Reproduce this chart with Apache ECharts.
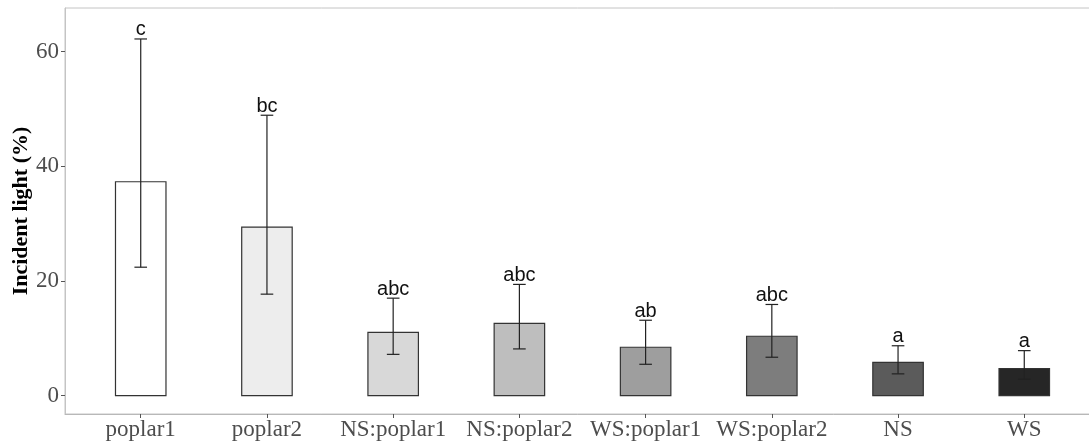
<!DOCTYPE html>
<html>
<head>
<meta charset="utf-8">
<script src="https://cdn.jsdelivr.net/npm/echarts@6/dist/echarts.min.js"></script>
<style>
  html, body { margin: 0; padding: 0; background: #fff; }
  #chart { width: 1089px; height: 445px; }
</style>
</head>
<body>
<div id="chart"></div>
<script>
// data
const categories = ['poplar1', 'poplar2', 'NS:poplar1', 'NS:poplar2', 'WS:poplar1', 'WS:poplar2', 'NS', 'WS']
const means = [37.3, 29.4, 11.05, 12.6, 8.44, 10.36, 5.82, 4.7]
const upper = [62.2, 48.9, 17.0, 19.4, 13.15, 15.9, 8.7, 7.85]
const lower = [22.4, 17.7, 7.2, 8.15, 5.47, 6.7, 3.8, 2.86]
const letters = ['c', 'bc', 'abc', 'abc', 'ab', 'abc', 'a', 'a']
const yTicks = [0, 20, 40, 60]

// grey fill per group
const fills = ['#FFFFFF', '#EDEDED', '#D8D8D8', '#BEBEBE', '#9E9E9E', '#7D7D7D', '#5B5B5B', '#262626']

const chart = echarts.init(document.getElementById('chart'))
const xPos = categories.map((c, i) => i + 1)

chart.setOption({
  backgroundColor: '#fff',
  animation: false,
  grid: {
    left: 65,
    right: -11,
    top: 8,
    bottom: 31,
    outerBoundsMode: 'none',
    containLabel: false,
    show: true,
    borderColor: '#C4C4C4',
    borderWidth: 1
  },
  xAxis: {
    type: 'value',
    min: 0.4,
    max: 8.6,
    splitLine: { show: false },
    axisLine: { show: true, onZero: false, lineStyle: { color: '#B8B8B8', width: 1 } },
    axisTick: { show: true, customValues: xPos, length: 4, lineStyle: { color: '#555' } },
    axisLabel: {
      customValues: xPos,
      formatter: v => categories[Math.round(v) - 1],
      color: '#4D4D4D',
      fontFamily: 'Liberation Serif',
      fontSize: 23,
      margin: 4
    }
  },
  yAxis: {
    type: 'value',
    min: -3.2,
    max: 67.6,
    name: 'Incident light (%)',
    nameLocation: 'middle',
    nameGap: 33,
    nameMoveOverlap: false,
    nameTextStyle: {
      color: '#000',
      fontFamily: 'Liberation Serif',
      fontWeight: 'bold',
      fontSize: 22
    },
    splitLine: { show: false },
    axisLine: { show: true, onZero: false, lineStyle: { color: '#C4C4C4', width: 1 } },
    axisTick: { show: true, customValues: yTicks, length: 4, lineStyle: { color: '#555' } },
    axisLabel: {
      customValues: yTicks,
      color: '#4D4D4D',
      fontFamily: 'Liberation Serif',
      fontSize: 23,
      margin: 6
    }
  },
  series: [
    {
      // bars, width 0.4 of a category
      type: 'custom',
      data: means.map((v, i) => [i + 1, v]),
      renderItem: (params, api) => {
        const x = api.value(0)
        const p0 = api.coord([x - 0.2, api.value(1)])
        const p1 = api.coord([x + 0.2, 0])
        return {
          type: 'rect',
          shape: { x: p0[0], y: p0[1], width: p1[0] - p0[0], height: p1[1] - p0[1] },
          style: { fill: fills[params.dataIndex], stroke: '#333', lineWidth: 1.2 }
        }
      }
    },
    {
      // error bars
      type: 'custom',
      data: upper.map((u, i) => [i + 1, lower[i], u]),
      renderItem: (params, api) => {
        const x = api.value(0)
        const lo = api.coord([x, api.value(1)])
        const hi = api.coord([x, api.value(2)])
        const w = api.coord([x + 0.05, 0])[0] - lo[0]
        const st = { stroke: '#222', lineWidth: 1.2 }
        return {
          type: 'group',
          children: [
            { type: 'line', shape: { x1: lo[0], y1: lo[1], x2: hi[0], y2: hi[1] }, style: st },
            { type: 'line', shape: { x1: lo[0] - w, y1: lo[1], x2: lo[0] + w, y2: lo[1] }, style: st },
            { type: 'line', shape: { x1: hi[0] - w, y1: hi[1], x2: hi[0] + w, y2: hi[1] }, style: st }
          ]
        }
      }
    },
    {
      // significance letters
      type: 'custom',
      data: upper.map((u, i) => [i + 1, u]),
      renderItem: (params, api) => {
        const p = api.coord([api.value(0), api.value(1)])
        return {
          type: 'text',
          x: p[0],
          y: p[1] + 1,
          style: {
            text: letters[params.dataIndex],
            fill: '#111',
            font: '20px "Liberation Sans"',
            align: 'center',
            verticalAlign: 'bottom'
          }
        }
      }
    }
  ]
})
</script>
</body>
</html>
